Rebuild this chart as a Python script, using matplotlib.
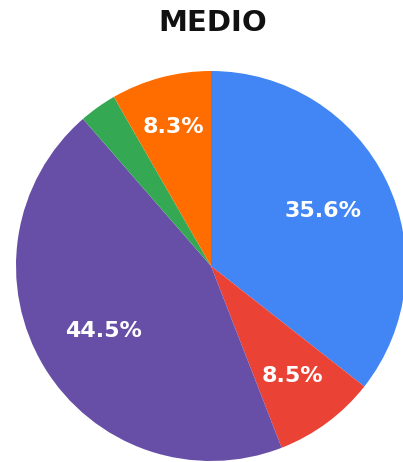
import numpy as np
import matplotlib.pyplot as plt

categories = ['A', 'B', 'C', 'D', 'E']
shares = [35.6, 8.5, 44.5, 3.1, 8.3]
colors = ['#4285F4', '#EA4335', '#674EA7', '#34A853', '#FF6D01']
label_radius = [0.64, 0.70, 0.645, 0.68, 0.74]

fig = plt.figure(figsize=(4.03, 4.62), dpi=100)
ax = fig.add_axes([16 / 403, 1 / 462, 390 / 403, 390 / 462])

wedges, _ = ax.pie(shares, colors=colors, startangle=90, counterclock=False,
                   radius=1.0, wedgeprops=dict(linewidth=0))

# percentage labels, small slices left blank
for w, v, r in zip(wedges, shares, label_radius):
    if v < 5:
        continue
    ang = np.deg2rad((w.theta1 + w.theta2) / 2)
    ax.text(r * np.cos(ang), r * np.sin(ang), f'{v:.1f}%', ha='center', va='center',
            color='white', fontsize=16, fontweight='heavy', family='DejaVu Sans')

ax.set_xlim(-1, 1)
ax.set_ylim(-1, 1)
ax.set_aspect('equal')
ax.axis('off')

fig.text(213 / 403, 1 - 23 / 462, 'MEDIO', ha='center', va='center',
         fontsize=21, fontweight='bold', family='DejaVu Sans', color='#111111')

fig.savefig('out.png', dpi=100)
